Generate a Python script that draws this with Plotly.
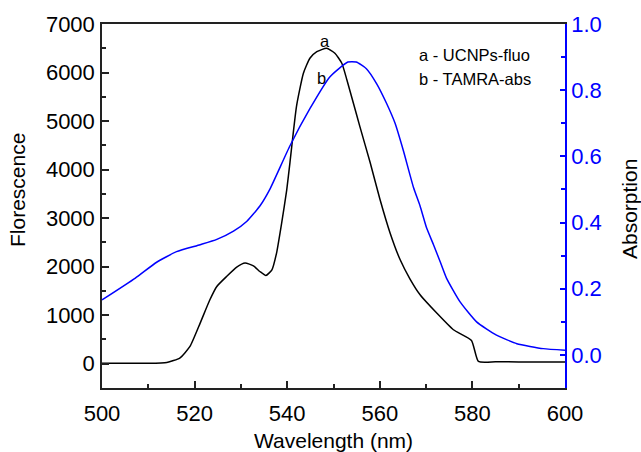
import plotly.graph_objects as go

# Fluorescence (UCNPs) - left axis
fluo_nm = [500, 505, 510, 514, 516.8, 519, 521.2, 523.3, 524.8, 526.9, 529.1, 530.9,
           532.7, 534.1, 535.4, 536.7, 537.7, 538.8, 539.9, 540.6, 542.0, 543.5, 544.9,
           546.4, 548.5, 550.3, 551.8, 552.9, 554.3, 555.7, 557.9, 560.0, 562.2, 564.4,
           566.5, 568.7, 572.3, 575.9, 579.8, 581.3, 585, 590, 595, 600]
fluo_val = [10, 10, 10, 27, 117, 356, 837, 1318, 1592, 1797, 1990, 2073,
            2018, 1900, 1818, 1935, 2280, 2897, 3583, 4150, 5300, 5985, 6294,
            6430, 6500, 6397, 6191, 5847, 5367, 4886, 4150, 3400, 2700, 2141,
            1750, 1421, 1044, 700, 480, 47, 40, 38, 36, 35]

# Absorption (TAMRA) - right axis
abs_nm = [500, 507.2, 511.8, 516.1, 521.2, 524.8, 528.4, 531.3, 534.1, 536.3, 540.6,
          544.9, 549.2, 553.1, 554.9, 557.1, 559.3, 561.5, 563.3, 565.1, 567.3, 568.7,
          570.1, 571.6, 573.0, 574.4, 577.3, 580.9, 585.2, 589.6, 595.3, 600]
abs_val = [0.166, 0.232, 0.280, 0.312, 0.333, 0.349, 0.374, 0.404, 0.450, 0.502, 0.632,
           0.744, 0.840, 0.885, 0.885, 0.865, 0.820, 0.759, 0.700, 0.617, 0.505, 0.450,
           0.384, 0.333, 0.283, 0.232, 0.161, 0.100, 0.060, 0.034, 0.019, 0.014]

legend_lines = ["a - UCNPs-fluo", "b - TAMRA-abs"]

FONT = "Liberation Sans, Arial, sans-serif"

fig = go.Figure()
fig.add_trace(go.Scatter(x=fluo_nm, y=fluo_val, mode="lines",
                         line=dict(color="black", width=1.5, shape="spline", smoothing=0.5),
                         showlegend=False))
fig.add_trace(go.Scatter(x=abs_nm, y=abs_val, mode="lines", yaxis="y2",
                         line=dict(color="#0000FF", width=1.5, shape="spline", smoothing=0.5),
                         showlegend=False))

fig.update_layout(
    width=641, height=452,
    margin=dict(l=102, r=76, t=24, b=64),
    paper_bgcolor="white", plot_bgcolor="white",
    font=dict(family=FONT, size=21, color="black"),
    xaxis=dict(range=[500, 600], tickvals=[500, 520, 540, 560, 580, 600],
               ticks="inside", ticklen=7, tickwidth=1.5, tickcolor="#222",
               minor=dict(dtick=10, tick0=500, ticks="inside", ticklen=4, tickwidth=1.5, tickcolor="#222"),
               showline=True, linecolor="#222", linewidth=1.5, mirror=True,
               showgrid=False, zeroline=False, ticklabelstandoff=5, automargin=False,
               tickfont=dict(size=22, color="black")),
    yaxis=dict(range=[-500, 7000], tickvals=[0, 1000, 2000, 3000, 4000, 5000, 6000, 7000],
               ticks="inside", ticklen=7, tickwidth=1.5, tickcolor="#222",
               minor=dict(dtick=500, tick0=0, ticks="inside", ticklen=4, tickwidth=1.5, tickcolor="#222"),
               showline=True, linecolor="#222", linewidth=1.5,
               showgrid=False, zeroline=False, ticklabelstandoff=1, automargin=False,
               tickfont=dict(size=22, color="black")),
    yaxis2=dict(range=[-0.1, 1.0], tickvals=[0.0, 0.2, 0.4, 0.6, 0.8, 1.0],
                ticktext=["0.0", "0.2", "0.4", "0.6", "0.8", "1.0"],
                overlaying="y", side="right",
                ticks="inside", ticklen=5, tickwidth=1.5, tickcolor="#0000FF",
                minor=dict(dtick=0.1, tick0=0, ticks="inside", ticklen=4, tickwidth=1.5, tickcolor="#0000FF"),
                showline=True, linecolor="#0000FF", linewidth=1.5,
                showgrid=False, zeroline=False, automargin=False,
                tickfont=dict(size=22, color="#0000FF")),
)

annotations = [
    dict(text="Florescence", xref="paper", yref="paper", x=(17 - 102) / 463, y=(388 - 190) / 364,
         textangle=-90, showarrow=False, font=dict(size=21), xanchor="center", yanchor="middle"),
    dict(text="Absorption", xref="paper", yref="paper", x=(629 - 102) / 463, y=(388 - 209) / 364,
         textangle=-90, showarrow=False, font=dict(size=21), xanchor="center", yanchor="middle"),
    dict(text="Wavelength (nm)", xref="paper", yref="paper", x=(333 - 102) / 463, y=(388 - 440) / 364,
         showarrow=False, font=dict(size=21), xanchor="center", yanchor="middle"),
    dict(text=legend_lines[0], xref="paper", yref="paper", x=(417 - 102) / 463, y=(388 - 55) / 364,
         showarrow=False, font=dict(size=16.5), xanchor="left", yanchor="middle"),
    dict(text=legend_lines[1], xref="paper", yref="paper", x=(417 - 102) / 463, y=(388 - 79) / 364,
         showarrow=False, font=dict(size=16.5), xanchor="left", yanchor="middle"),
    dict(text="a", xref="x", yref="y", x=548.2, y=6650,
         showarrow=False, font=dict(size=16.5), xanchor="center", yanchor="middle"),
    dict(text="b", xref="x", yref="y2", x=547.5, y=0.836,
         showarrow=False, font=dict(size=16.5), xanchor="center", yanchor="middle"),
]
fig.update_layout(annotations=annotations)

fig.write_html("out.html",
               config={"displayModeBar": False},
               post_script="document.body.style.margin='0';document.body.style.overflow='hidden';")
